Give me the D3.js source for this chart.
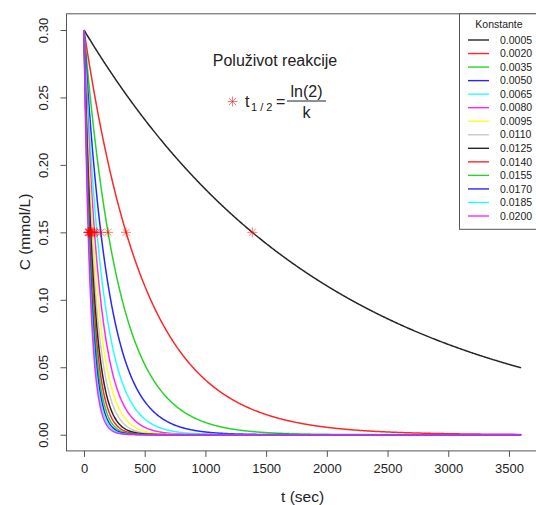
<!DOCTYPE html>
<html>
<head>
<meta charset="utf-8">
<script src="https://cdn.jsdelivr.net/npm/d3@7"></script>
<style>
  html, body { margin: 0; padding: 0; background: #fff; }
  svg { display: block; font-family: "Liberation Sans", Arial, sans-serif; }
</style>
</head>
<body>
<svg id="chart" width="536" height="505"></svg>
<script>
// Rate constants (1/s) for the first-order decay curves
const constants = [0.0005, 0.0020, 0.0035, 0.0050, 0.0065, 0.0080, 0.0095,
                   0.0110, 0.0125, 0.0140, 0.0155, 0.0170, 0.0185, 0.0200];
const constantLabels = ["0.0005", "0.0020", "0.0035", "0.0050", "0.0065", "0.0080", "0.0095",
                        "0.0110", "0.0125", "0.0140", "0.0155", "0.0170", "0.0185", "0.0200"];
// Classic R palette, recycled over the series
const seriesColors = ["#000000", "#ff0000", "#00cd00", "#0000ff", "#00ffff", "#ff00ff", "#ffff00",
                      "#bebebe", "#000000", "#ff0000", "#00cd00", "#0000ff", "#00ffff", "#ff00ff"];
const initialConc = 0.3;          // mmol/L
const tMax = 3600;                // s
const xTicks = [0, 500, 1000, 1500, 2000, 2500, 3000, 3500];
const yTicks = [0.00, 0.05, 0.10, 0.15, 0.20, 0.25, 0.30];

const svg = d3.select("#chart");

// Plot region with 4% padding around the data range
const plotL = 66.5, plotR = 538.6, plotT = 13.8, plotB = 450.9;
const x = d3.scaleLinear().domain([-144, 3744]).range([plotL, plotR]);
const y = d3.scaleLinear().domain([-0.012, 0.312]).range([plotB, plotT]);

// Sample times for each curve
const times = d3.range(0, tMax + 1, 5);
const conc = (k, t) => initialConc * Math.exp(-k * t);

const line = d3.line().x(d => x(d[0])).y(d => y(d[1]));

const curves = svg.append("g").attr("fill", "none").attr("stroke-width", 1.5);
constants.forEach((k, i) => {
  curves.append("path")
    .attr("d", line(times.map(t => [t, conc(k, t)])))
    .attr("stroke", seriesColors[i])
    .attr("stroke-opacity", 0.85);
});

// Half-life markers (asterisks) at t = ln(2)/k
const star = (g, cx, cy, r, col, op) => {
  const d = r * Math.SQRT1_2;
  const segs = [[-r, 0, r, 0], [0, -r, 0, r], [-d, -d, d, d], [-d, d, d, -d]];
  segs.forEach(s => g.append("line")
    .attr("x1", cx + s[0]).attr("y1", cy + s[1])
    .attr("x2", cx + s[2]).attr("y2", cy + s[3])
    .attr("stroke", col).attr("stroke-width", 1).attr("stroke-opacity", op));
};
const stars = svg.append("g");
constants.forEach(k => {
  const th = Math.log(2) / k;
  star(stars, x(th), y(conc(k, th)), 5, "#ff0000", 0.5);
});

// Box
svg.append("rect")
  .attr("x", plotL).attr("y", plotT)
  .attr("width", plotR - plotL).attr("height", plotB - plotT)
  .attr("fill", "none").attr("stroke", "#555").attr("stroke-width", 1);

// Axes: ticks point outward from the box edge
const xAxis = svg.append("g").attr("transform", `translate(0,${plotB})`)
  .call(d3.axisBottom(x).tickValues(xTicks).tickSize(6).tickPadding(5).tickFormat(d3.format("d")));
const yAxis = svg.append("g").attr("transform", `translate(${plotL},0)`)
  .call(d3.axisLeft(y).tickValues(yTicks).tickSize(6).tickPadding(5).tickFormat(d3.format(".2f")));
[xAxis, yAxis].forEach(a => {
  a.select(".domain").remove();
  a.selectAll(".tick line").attr("stroke", "#555");
  a.selectAll(".tick text").attr("fill", "#222").attr("font-size", 13)
    .attr("font-family", "Liberation Sans, Arial, sans-serif");
});
// y tick labels rotated (parallel to the axis)
yAxis.selectAll(".tick text")
  .attr("transform", "translate(-23.5,0) rotate(-90)")
  .attr("x", 0).attr("y", 0).attr("dy", "0.35em")
  .attr("text-anchor", "middle");
xAxis.selectAll(".tick text").attr("dy", "0.71em").attr("y", 12.5);

// Axis titles
svg.append("text").attr("x", x(1800)).attr("y", 502)
  .attr("text-anchor", "middle").attr("font-size", 15.5).attr("fill", "#222").text("t (sec)");
svg.append("text").attr("transform", "translate(25,232) rotate(-90)")
  .attr("text-anchor", "middle").attr("dy", "0.35em").attr("font-size", 15.5).attr("fill", "#222").text("C (mmol/L)");

// Annotation
svg.append("text").attr("x", 275).attr("y", 66)
  .attr("text-anchor", "middle").attr("font-size", 16).attr("fill", "#222").text("Poluživot reakcije");
star(svg, 232.5, 101.5, 5, "#ff0000", 0.5);
const f = svg.append("g").attr("fill", "#222");
f.append("text").attr("x", 245).attr("y", 107).attr("font-size", 16).text("t");
f.append("text").attr("x", 251).attr("y", 111).attr("font-size", 11).text("1 / 2");
f.append("text").attr("x", 276).attr("y", 107).attr("font-size", 16).text("=");
f.append("line").attr("x1", 287).attr("x2", 326).attr("y1", 101).attr("y2", 101)
  .attr("stroke", "#222").attr("stroke-width", 1);
f.append("text").attr("x", 306.5).attr("y", 97).attr("text-anchor", "middle").attr("font-size", 16).text("ln(2)");
f.append("text").attr("x", 306.5).attr("y", 118).attr("text-anchor", "middle").attr("font-size", 16).text("k");

// Legend
const lg = svg.append("g");
lg.append("rect").attr("x", 459.5).attr("y", plotT).attr("width", 90).attr("height", 215.5)
  .attr("fill", "#fff").attr("stroke", "#555").attr("stroke-width", 1);
lg.append("text").attr("x", 499).attr("y", 28).attr("text-anchor", "middle")
  .attr("font-size", 10.5).attr("fill", "#222").text("Konstante");
const rowY = d3.scaleLinear().domain([0, constants.length - 1]).range([40, 216]);
constants.forEach((k, i) => {
  lg.append("line").attr("x1", 468).attr("x2", 489)
    .attr("y1", rowY(i)).attr("y2", rowY(i))
    .attr("stroke", seriesColors[i]).attr("stroke-width", 1.4).attr("stroke-opacity", 0.85);
  lg.append("text").attr("x", 500).attr("y", rowY(i)).attr("dy", "0.35em")
    .attr("font-size", 10.5).attr("fill", "#222").text(constantLabels[i]);
});
</script>
</body>
</html>
